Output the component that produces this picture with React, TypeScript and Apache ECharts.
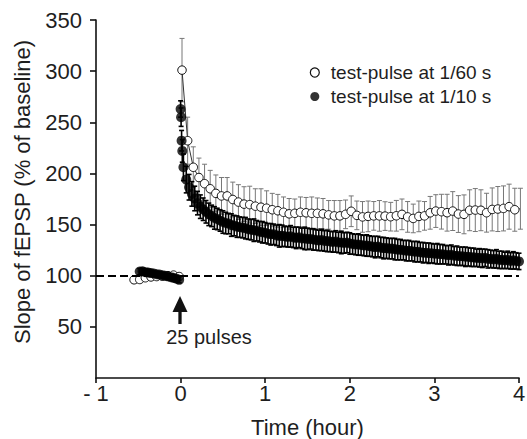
import React, { useEffect, useRef } from 'react';
import * as echarts from 'echarts';

const FONT = '"Liberation Sans", Arial, Helvetica, sans-serif';
const TEXT = '#1e1e1e';
const INK = '#111';

const OPEN_NAME = 'test-pulse at 1/60 s';
const FILLED_NAME = 'test-pulse at 1/10 s';

const xTicks = [-1, 0, 1, 2, 3, 4];
const yTicks = [50, 100, 150, 200, 250, 300, 350];
const BASELINE = 100;

// open circles (1/60 s) — baseline, times in minutes
const openBaseMin = [-33, -29, -25, -21, -17, -13, -9, -5, -1];
const openBaseVal = [96, 96.3, 98, 98.8, 99.2, 99.5, 100, 100.6, 99.2];
const openBaseErr = [3, 3, 3, 2.5, 2.5, 2.5, 2.5, 2.5, 2.5];

// open circles after tetanus: one point every 4 min starting at 1 min
const OPEN_FIRST_MIN = 1;
const OPEN_STEP_MIN = 4;
const openPostVal = [
  301, 232, 206, 196, 190, 185, 180.5, 178, 178, 174.5,
  172, 170, 169.5, 168, 167, 166, 164.5, 163.5, 162, 160.5,
  161, 162, 161.5, 161, 161, 160.5, 159.5, 158.5, 158.5, 160,
  163, 159, 157.5, 158, 158.5, 158.5, 158.3, 157.7, 158.6, 160,
  157.5, 156, 158, 158.5, 161.5, 163.2, 162.6, 161.6, 163.2, 160.3,
  160, 164, 164.2, 164, 161.6, 164.8, 165.2, 165.8, 167.5, 164.5,
  165.5,
];
const openPostErr = [
  31, 23, 20, 19, 19, 18, 18, 18, 18, 17,
  17, 17, 18, 17, 18, 17, 16, 16, 15, 15,
  14, 15, 15, 16, 15, 15, 14, 15, 15, 14,
  15, 14, 15, 15, 14, 15, 14, 14, 15, 15,
  15, 14, 15, 14, 16, 16, 17, 18, 19, 18,
  19, 20, 21, 20, 19, 21, 22, 22, 22, 21,
  20,
];

// filled circles (1/10 s) — baseline
const filledBaseMin = [-29, -27, -25, -23, -21, -19, -17, -15, -13, -11, -9, -7, -5, -3, -1];
const filledBaseVal = [104, 104.3, 103.5, 103.1, 102.6, 102.2, 101.4, 101.1, 100.5, 99.9, 99.4, 98.6, 97.9, 97.1, 96];
const filledBaseErr = [3, 3, 3, 3, 2.5, 2.5, 2.5, 2.5, 2.5, 2.5, 2.5, 2.5, 3, 3, 3];

// first points right after the 25 pulses
const filledEarlyMin = [0, 0.35, 0.7, 1.2];
const filledEarlyVal = [263, 255, 232, 222];
const filledEarlyErr = [8, 9, 10, 11];

// then one point every 2 min from 2 min to 240 min
const FILLED_FIRST_MIN = 2;
const FILLED_STEP_MIN = 2;
const filledPostVal = [
  206, 194, 186.5, 180, 175.5, 171, 167.5, 165, 162.5, 160,
  158.5, 156.5, 155.5, 154, 152.5, 151.5, 151, 149.5, 149, 148,
  147.5, 147, 146.5, 145.5, 145, 144.5, 144, 143, 142.5, 142,
  141, 140.5, 140.5, 139.5, 139, 139, 138.5, 138, 138.5, 137.5,
  137, 137.5, 136.5, 136.5, 136, 136, 135.5, 135, 134.5, 135,
  134, 134, 133.5, 133, 133.5, 132.5, 132.5, 132, 132.5, 131.5,
  131, 130.5, 130.5, 130, 129.5, 129.5, 129, 128.5, 128, 128.5,
  127.5, 127, 127, 126.5, 126.5, 126, 125.5, 125.5, 125, 124.5,
  124.5, 124, 123.5, 123.5, 123, 122.5, 122.5, 122, 122, 121.5,
  121.5, 121, 121, 120.5, 120, 120.5, 119.5, 119.5, 119, 119,
  118.5, 118.5, 118, 118, 117.5, 117.5, 117, 117.5, 116.5, 116.5,
  116, 116.5, 115.5, 115.5, 115, 115.5, 114.5, 115, 114.5, 114,
];
const filledPostErr = [
  13, 13, 12.5, 12, 12, 11.5, 11.5, 11, 11, 11,
  10.5, 11, 10.5, 10.5, 11, 10.5, 10, 11, 10, 10.5,
  10, 10, 10.5, 10, 10, 11, 10, 10, 10.5, 10,
  10, 10.5, 10, 10, 11, 10.5, 10, 10, 10.5, 10,
  10.5, 10, 10, 11, 10.5, 10, 10.5, 10, 10, 10.5,
  10, 10.5, 10, 10, 10.5, 10, 11, 10, 10, 10.5,
  10, 10, 10.5, 10, 10, 10.5, 10, 10, 10.5, 10,
  10, 10.5, 10, 10, 10, 10.5, 10, 10, 9.5, 10,
  10, 9.5, 10, 10, 9.5, 10, 9.5, 10, 9.5, 9.5,
  10, 9.5, 9.5, 9, 9.5, 9.5, 9, 9.5, 9, 9,
  9.5, 9, 9, 9, 8.5, 9, 9, 8.5, 9, 8.5,
  8.5, 9, 8.5, 8.5, 8, 8.5, 8, 8.5, 8, 8,
];

const h = (m: number) => m / 60;

const openBase = openBaseMin.map((m, i) => [h(m), openBaseVal[i], openBaseErr[i]]);
const openPost = openPostVal.map((v, i) => [h(OPEN_FIRST_MIN + OPEN_STEP_MIN * i), v, openPostErr[i]]);
const filledBase = filledBaseMin.map((m, i) => [h(m), filledBaseVal[i], filledBaseErr[i]]);
const filledPost = [
  ...filledEarlyMin.map((m, i) => [h(m), filledEarlyVal[i], filledEarlyErr[i]]),
  ...filledPostVal.map((v, i) => [h(FILLED_FIRST_MIN + FILLED_STEP_MIN * i), v, filledPostErr[i]]),
];

function errorBars(color: string, capHalf: number, lw: number) {
  return (_params: any, api: any) => {
    const x = api.value(0);
    const y = api.value(1);
    const e = api.value(2);
    const hi = api.coord([x, y + e]);
    const lo = api.coord([x, y - e]);
    const style = { stroke: color, lineWidth: lw };
    return {
      type: 'group',
      children: [
        { type: 'line', shape: { x1: hi[0], y1: hi[1], x2: lo[0], y2: lo[1] }, style },
        { type: 'line', shape: { x1: hi[0] - capHalf, y1: hi[1], x2: hi[0] + capHalf, y2: hi[1] }, style },
        { type: 'line', shape: { x1: lo[0] - capHalf, y1: lo[1], x2: lo[0] + capHalf, y2: lo[1] }, style },
      ],
    };
  };
}

export default function App() {
  const ref = useRef<HTMLDivElement>(null);

  useEffect(() => {
    if (!ref.current) return;
    const chart = echarts.init(ref.current, null, { renderer: 'svg' });

    const openItem = { color: '#fff', borderColor: INK, borderWidth: 1 };

    chart.setOption({
      animation: false,
      backgroundColor: '#fff',
      grid: { left: 96, right: 8, top: 20, bottom: 61, outerBoundsMode: 'none', containLabel: false },
      legend: {
        orient: 'vertical',
        left: 309.7,
        top: 63,
        padding: 0,
        itemWidth: 22,
        itemHeight: 9,
        itemGap: 5,
        selectedMode: false,
        textStyle: { fontSize: 19, fontFamily: FONT, color: TEXT },
        data: [
          { name: OPEN_NAME, icon: 'circle', itemStyle: { color: '#fff', borderColor: INK, borderWidth: 1.2 } },
          { name: FILLED_NAME, icon: 'circle', itemStyle: { color: '#000', borderWidth: 0 } },
        ],
      },
      xAxis: {
        type: 'value',
        min: -1,
        max: 4,
        interval: 1,
        axisLine: { show: true, onZero: false, lineStyle: { color: INK, width: 1.6 } },
        axisTick: { show: true, length: 5, customValues: xTicks, lineStyle: { color: INK, width: 1.6 } },
        axisLabel: {
          margin: 4,
          fontSize: 22,
          fontFamily: FONT,
          color: TEXT,
          customValues: xTicks,
          formatter: (v: number) => (v < 0 ? '- ' + Math.abs(v) : String(v)),
        },
        splitLine: { show: false },
        name: 'Time (hour)',
        nameLocation: 'middle',
        nameGap: 38,
        nameTextStyle: { fontSize: 22, fontFamily: FONT, color: TEXT },
      },
      yAxis: {
        type: 'value',
        min: 0,
        max: 350,
        interval: 50,
        axisLine: { show: true, onZero: false, lineStyle: { color: INK, width: 1.6 } },
        axisTick: { show: true, length: 6, customValues: yTicks, lineStyle: { color: INK, width: 1.6 } },
        axisLabel: {
          margin: 14,
          fontSize: 22,
          fontFamily: FONT,
          color: TEXT,
          customValues: yTicks,
          formatter: (v: number) => (v === 0 ? '' : String(v)),
        },
        splitLine: { show: false },
      },
      graphic: [
        {
          type: 'text',
          x: 22,
          y: 192,
          rotation: Math.PI / 2,
          style: {
            text: 'Slope of fEPSP (% of baseline)',
            fontSize: 22,
            fontFamily: FONT,
            fill: TEXT,
            align: 'center',
            verticalAlign: 'middle',
            textAlign: 'center',
            textVerticalAlign: 'middle',
          },
        },
        {
          type: 'polygon',
          shape: { points: [[180, 296], [172.5, 312], [187.5, 312]] },
          style: { fill: INK },
        },
        {
          type: 'line',
          shape: { x1: 180, y1: 310, x2: 180, y2: 324 },
          style: { stroke: INK, lineWidth: 3.3 },
        },
        {
          type: 'text',
          x: 209,
          y: 337,
          style: {
            text: '25 pulses',
            fontSize: 20,
            fontFamily: FONT,
            fill: TEXT,
            align: 'center',
            verticalAlign: 'middle',
            textAlign: 'center',
            textVerticalAlign: 'middle',
          },
        },
      ],
      series: [
        {
          name: 'open-err-base',
          type: 'custom',
          renderItem: errorBars('#777', 2.5, 1),
          data: openBase,
          encode: { x: 0, y: 1 },
          z: 1,
          silent: true,
        },
        {
          name: 'open-err-post',
          type: 'custom',
          renderItem: errorBars('#777', 2.5, 1),
          data: openPost,
          encode: { x: 0, y: 1 },
          z: 1,
          silent: true,
        },
        {
          name: OPEN_NAME,
          type: 'line',
          data: openBase.map((d) => [d[0], d[1]]),
          symbol: 'circle',
          symbolSize: 8.5,
          itemStyle: openItem,
          lineStyle: { color: '#333', width: 1 },
          z: 2,
          silent: true,
          markLine: {
            silent: true,
            symbol: 'none',
            label: { show: false },
            lineStyle: { color: '#000', width: 2, type: [8, 4] },
            data: [{ yAxis: BASELINE }],
          },
        },
        {
          name: OPEN_NAME,
          type: 'line',
          data: openPost.map((d) => [d[0], d[1]]),
          symbol: 'circle',
          symbolSize: 8.5,
          itemStyle: openItem,
          lineStyle: { color: '#333', width: 1 },
          z: 2,
          silent: true,
        },
        {
          name: 'filled-err-base',
          type: 'custom',
          renderItem: errorBars('#000', 2.5, 1.6),
          data: filledBase,
          encode: { x: 0, y: 1 },
          z: 3,
          silent: true,
        },
        {
          name: 'filled-err-post',
          type: 'custom',
          renderItem: errorBars('#000', 2.5, 1.6),
          data: filledPost,
          encode: { x: 0, y: 1 },
          z: 3,
          silent: true,
        },
        {
          name: FILLED_NAME,
          type: 'scatter',
          data: filledBase.map((d) => [d[0], d[1]]),
          symbol: 'circle',
          symbolSize: 10,
          itemStyle: { color: '#000' },
          z: 4,
          silent: true,
        },
        {
          name: FILLED_NAME,
          type: 'scatter',
          data: filledPost.map((d) => [d[0], d[1]]),
          symbol: 'circle',
          symbolSize: 10,
          itemStyle: { color: '#000' },
          z: 4,
          silent: true,
        },
      ],
    });

    return () => chart.dispose();
  }, []);

  return (
    <div
      ref={ref}
      style={{ position: 'absolute', left: 0, top: 0, width: 527, height: 439, background: '#fff' }}
    />
  );
}
